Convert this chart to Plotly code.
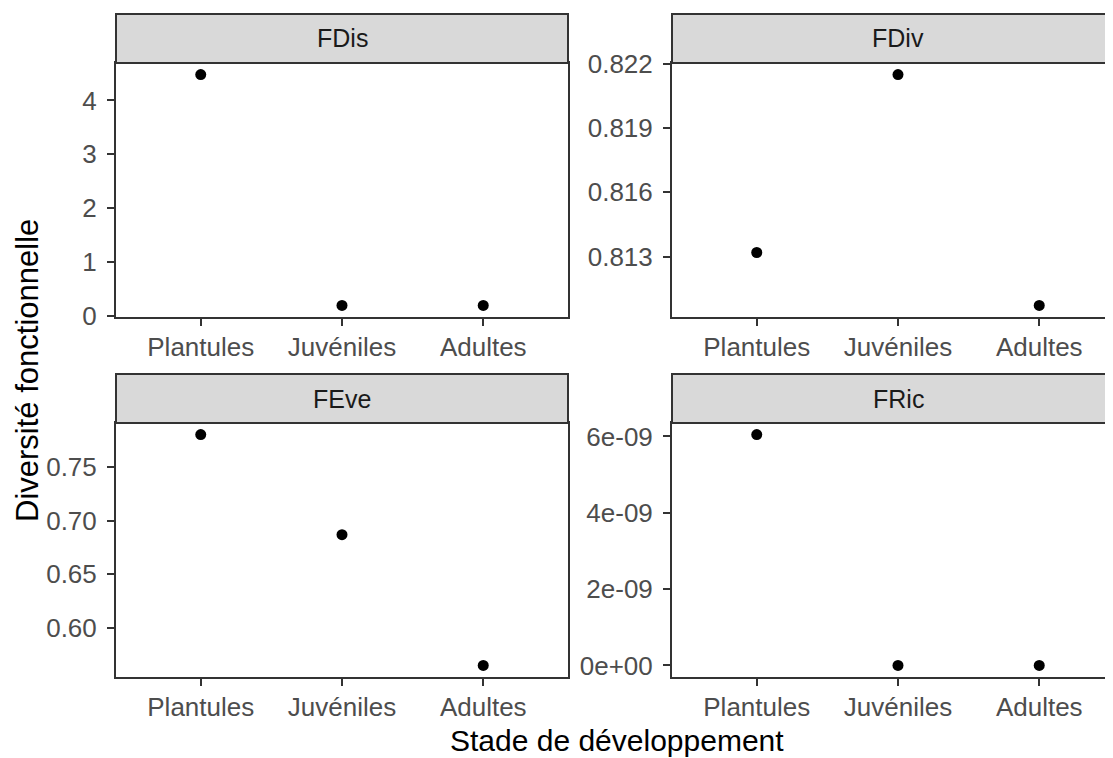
import plotly.graph_objects as go
from plotly.subplots import make_subplots

# donnees
stades = ['Plantules', 'Juvéniles', 'Adultes']
indices = ['FDis', 'FDiv', 'FEve', 'FRic']
fdis = [4.48, 0.2, 0.2]
fdiv = [0.81319, 0.82149, 0.81072]
feve = [0.7806, 0.687, 0.5648]
fric = [6.05e-09, 0.0, 0.0]

fdiv_ticks = [0.813, 0.816, 0.819, 0.822]
fric_ticks = [0, 2e-09, 4e-09, 6e-09]
fric_labels = ['0e+00', '2e-09', '4e-09', '6e-09']

# la page ajoute une marge de 8 px autour de la figure
OFF = 8
W, H = 1113 - OFF, 758 - OFF
valeurs = [fdis, fdiv, feve, fric]

fig = make_subplots(rows=2, cols=2)
for i, v in enumerate(valeurs):
    fig.add_trace(go.Scatter(x=stades, y=v, mode='markers',
                             marker=dict(color='black', size=11),
                             showlegend=False),
                  row=i // 2 + 1, col=i % 2 + 1)


def etendue(v):
    # expansion de 5% comme ggplot
    d = (max(v) - min(v)) * 0.05
    return [min(v) - d, max(v) + d]


# positions en pixels dans la fenetre (haut/bas de chaque panneau)
col_x = [(116, 568), (672, 1113)]
row_y = [(63, 317), (423, 677)]
strip_h = 49


def px(x):
    return (x - OFF) / W


def py(y):
    return 1 - (y - OFF) / H


axe = dict(showline=True, linecolor='#333333', linewidth=2,
           ticks='outside', ticklen=7, tickwidth=1.5, tickcolor='#333333',
           showgrid=False, zeroline=False,
           tickfont=dict(family='Liberation Sans', size=26, color='#4D4D4D'))

for i in range(4):
    r, c = i // 2, i % 2
    n = '' if i == 0 else str(i + 1)
    x0, x1 = col_x[c]
    y0, y1 = row_y[r]
    xr = [-0.6, 2.6] if c == 0 else [-0.6, -0.6 + (x1 - x0) / 141.25]
    fig.layout['xaxis' + n].update(axe, domain=[px(x0), px(x1)], range=xr,
                                   mirror=True, ticklabelstandoff=-1)
    fig.layout['yaxis' + n].update(axe, domain=[py(y1), py(y0)],
                                   range=etendue(valeurs[i]),
                                   mirror=(c == 0), ticklabelstandoff=5)
    # bandeau du facet
    fig.add_shape(type='rect', xref='x' + n + ' domain', yref='paper',
                  x0=0, x1=1 if c == 0 else 1.2,
                  y0=py(y0), y1=py(y0 - strip_h),
                  fillcolor='#D9D9D9', line=dict(color='#333333', width=2),
                  layer='above')
    fig.add_annotation(text=indices[i], xref='x' + n, yref='paper',
                       x=1, y=py(y0 - strip_h / 2), showarrow=False,
                       xanchor='center', yanchor='middle',
                       font=dict(family='Liberation Sans', size=25, color='#1A1A1A'))

fig.layout.yaxis.update(dtick=1, tick0=0)
fig.layout.yaxis2.update(tickvals=fdiv_ticks, tickformat='.3f')
fig.layout.yaxis3.update(dtick=0.05, tick0=0.6, tickformat='.2f')
fig.layout.yaxis4.update(tickvals=fric_ticks, ticktext=fric_labels)

fig.add_annotation(text='Stade de développement', xref='paper', yref='paper',
                   x=px(617), y=py(740), showarrow=False,
                   xanchor='center', yanchor='middle',
                   font=dict(family='Liberation Sans', size=30, color='black'))
fig.add_annotation(text='Diversité fonctionnelle', xref='paper', yref='paper',
                   x=px(27), y=py(371), showarrow=False, textangle=-90,
                   xanchor='center', yanchor='middle',
                   font=dict(family='Liberation Sans', size=31, color='black'))

fig.update_layout(width=W, height=H,
                  margin=dict(l=0, r=0, t=0, b=0, autoexpand=False),
                  plot_bgcolor='white', paper_bgcolor='white')

fig.write_html("out.html")
